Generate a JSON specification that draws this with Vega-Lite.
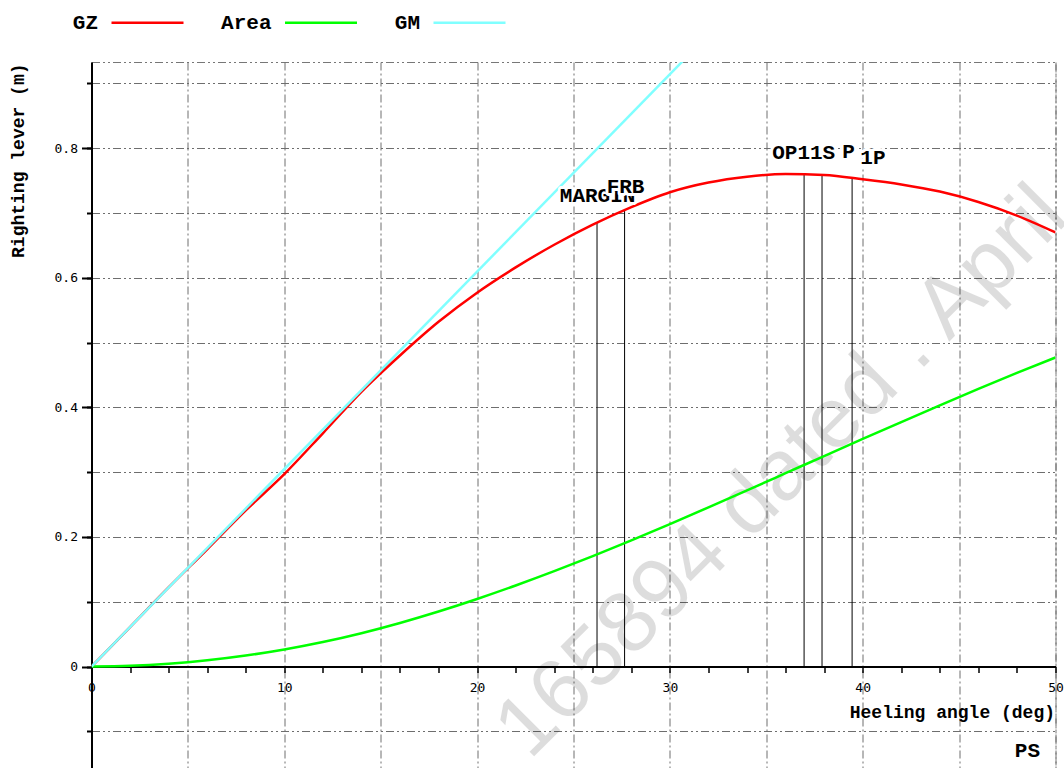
{
  "$schema": "https://vega.github.io/schema/vega-lite/v6.json",
  "width": 964,
  "height": 706,
  "autosize": {"type": "none"},
  "padding": {"left": 91.5, "top": 62, "right": 8.5, "bottom": 0},
  "background": "white",
  "config": {
    "view": {"stroke": "#777777", "strokeDash": [8, 3, 2, 3, 2, 3], "strokeWidth": 1},
    "axis": {
      "labelFont": "DejaVu Sans Mono",
      "labelFontSize": 13,
      "labelColor": "#000000",
      "titleFont": "Liberation Mono",
      "titleFontWeight": "bold",
      "titleFontSize": 18,
      "titleColor": "#000000",
      "domainColor": "#000000",
      "tickColor": "#000000",
      "gridColor": "#6e6e6e",
      "labelFlush": false,
      "labelOverlap": false
    }
  },
  "datasets": {
    "curves": [
      {"series": "GZ", "angle": 0, "value": 0},
      {"series": "GZ", "angle": 2, "value": 0.061},
      {"series": "GZ", "angle": 4, "value": 0.122},
      {"series": "GZ", "angle": 6, "value": 0.181},
      {"series": "GZ", "angle": 8, "value": 0.241},
      {"series": "GZ", "angle": 10, "value": 0.297},
      {"series": "GZ", "angle": 12, "value": 0.36},
      {"series": "GZ", "angle": 14, "value": 0.424},
      {"series": "GZ", "angle": 16, "value": 0.48},
      {"series": "GZ", "angle": 18, "value": 0.532},
      {"series": "GZ", "angle": 20, "value": 0.577},
      {"series": "GZ", "angle": 22, "value": 0.616},
      {"series": "GZ", "angle": 24, "value": 0.651},
      {"series": "GZ", "angle": 26, "value": 0.682},
      {"series": "GZ", "angle": 28, "value": 0.709},
      {"series": "GZ", "angle": 30, "value": 0.732},
      {"series": "GZ", "angle": 32, "value": 0.747},
      {"series": "GZ", "angle": 34, "value": 0.756},
      {"series": "GZ", "angle": 36, "value": 0.76},
      {"series": "GZ", "angle": 38, "value": 0.7585},
      {"series": "GZ", "angle": 40, "value": 0.752},
      {"series": "GZ", "angle": 42, "value": 0.744},
      {"series": "GZ", "angle": 44, "value": 0.733},
      {"series": "GZ", "angle": 46, "value": 0.717},
      {"series": "GZ", "angle": 48, "value": 0.696},
      {"series": "GZ", "angle": 50, "value": 0.67},
      {"series": "Area", "angle": 0, "value": 0},
      {"series": "Area", "angle": 2, "value": 0.00106},
      {"series": "Area", "angle": 4, "value": 0.00426},
      {"series": "Area", "angle": 6, "value": 0.00955},
      {"series": "Area", "angle": 8, "value": 0.01691},
      {"series": "Area", "angle": 10, "value": 0.0263},
      {"series": "Area", "angle": 12, "value": 0.03777},
      {"series": "Area", "angle": 14, "value": 0.05145},
      {"series": "Area", "angle": 16, "value": 0.06723},
      {"series": "Area", "angle": 18, "value": 0.08489},
      {"series": "Area", "angle": 20, "value": 0.10425},
      {"series": "Area", "angle": 22, "value": 0.12507},
      {"series": "Area", "angle": 24, "value": 0.14718},
      {"series": "Area", "angle": 26, "value": 0.17045},
      {"series": "Area", "angle": 28, "value": 0.19473},
      {"series": "Area", "angle": 30, "value": 0.21988},
      {"series": "Area", "angle": 32, "value": 0.24569},
      {"series": "Area", "angle": 34, "value": 0.27192},
      {"series": "Area", "angle": 36, "value": 0.29838},
      {"series": "Area", "angle": 38, "value": 0.32488},
      {"series": "Area", "angle": 40, "value": 0.35125},
      {"series": "Area", "angle": 42, "value": 0.37736},
      {"series": "Area", "angle": 44, "value": 0.40314},
      {"series": "Area", "angle": 46, "value": 0.42844},
      {"series": "Area", "angle": 48, "value": 0.45311},
      {"series": "Area", "angle": 50, "value": 0.47695},
      {"series": "GM", "angle": 0, "value": 0},
      {"series": "GM", "angle": 57.3, "value": 1.746}
    ],
    "limits": [
      {"name": "MARGIN", "angle": 26.22, "gz": 0.685},
      {"name": "FRB", "angle": 27.65, "gz": 0.705},
      {"name": "OP11S", "angle": 36.96, "gz": 0.7605},
      {"name": "P", "angle": 37.89, "gz": 0.7587},
      {"name": "1P", "angle": 39.45, "gz": 0.7538}
    ],
    "labels": [
      {"text": "MARGIN", "angle": 26.25, "level": 0.7168, "tier": 1},
      {"text": "FRB", "angle": 27.7, "level": 0.7315, "tier": 2},
      {"text": "OP11S", "angle": 36.94, "level": 0.7827, "tier": 1},
      {"text": "P", "angle": 39.26, "level": 0.7843, "tier": 1},
      {"text": "1P", "angle": 40.53, "level": 0.7755, "tier": 2}
    ]
  },
  "layer": [
    {
      "data": {"values": [{"mark": "165894 dated . April", "angle": 35.8, "level": 0.3}]},
      "mark": {
        "type": "text",
        "angle": -45,
        "font": "Liberation Sans",
        "fontSize": 86,
        "fill": "#000000",
        "opacity": 0.13,
        "align": "center",
        "baseline": "middle"
      },
      "encoding": {
        "x": {"field": "angle", "type": "quantitative", "scale": {"domain": [0, 50], "nice": false, "zero": false}, "axis": null},
        "y": {"field": "level", "type": "quantitative", "scale": {"domain": [-0.1566, 0.933], "nice": false, "zero": false}, "axis": null},
        "text": {"field": "mark"}
      }
    },
    {
      "data": {"name": "limits"},
      "mark": {"type": "rule", "color": "#000000", "strokeWidth": 1},
      "encoding": {
        "x": {
          "field": "angle",
          "type": "quantitative",
          "scale": {"domain": [0, 50], "nice": false, "zero": false},
          "axis": {
            "orient": "bottom",
            "offset": -101.5,
            "values": [0, 2, 4, 6, 8, 10, 12, 14, 16, 18, 20, 22, 24, 26, 28, 30, 32, 34, 36, 38, 40, 42, 44, 46, 48, 50],
            "grid": false,
            "domainWidth": 2,
            "tickSize": 6,
            "tickWidth": 1.5,
            "labelPadding": 9,
            "labelExpr": "datum.value % 10 === 0 ? datum.label : ''",
            "title": "Heeling angle (deg)",
            "titleX": 963,
            "titleY": 51,
            "titleAlign": "right",
            "titleBaseline": "alphabetic"
          }
        },
        "y": {
          "field": "gz",
          "type": "quantitative",
          "scale": {"domain": [-0.1566, 0.933], "nice": false, "zero": false},
          "axis": {
            "orient": "left",
            "values": [-0.1, 0, 0.1, 0.2, 0.3, 0.4, 0.5, 0.6, 0.7, 0.8, 0.9],
            "grid": false,
            "domainWidth": 2,
            "tickSize": 5,
            "tickWidth": 2,
            "labels": false,
            "title": null
          }
        },
        "y2": {"datum": 0}
      }
    },
    {
      "data": {"name": "curves"},
      "mark": {"type": "line", "strokeWidth": 2.5, "clip": true, "interpolate": "monotone"},
      "encoding": {
        "x": {
          "field": "angle",
          "type": "quantitative",
          "scale": {"domain": [0, 50], "nice": false, "zero": false},
          "axis": null
        },
        "y": {
          "field": "value",
          "type": "quantitative",
          "scale": {"domain": [-0.1566, 0.933], "nice": false, "zero": false},
          "axis": {
            "orient": "left",
            "values": [0, 0.2, 0.4, 0.6, 0.8],
            "grid": false,
            "domain": false,
            "tickSize": 10,
            "tickWidth": 2,
            "labelPadding": 4,
            "labelExpr": "datum.value == 0 ? '0' : format(datum.value, '.1f')",
            "title": "Righting lever (m)",
            "titleX": -73.5,
            "titleY": 1,
            "titleAngle": -90,
            "titleAlign": "right",
            "titleBaseline": "middle"
          }
        },
        "color": {
          "field": "series",
          "type": "nominal",
          "scale": {"domain": ["GZ", "Area", "GM"], "range": ["#ff0000", "#00ff00", "#80ffff"]},
          "legend": {
            "orient": "none",
            "direction": "horizontal",
            "legendX": 18.5,
            "legendY": -77,
            "title": null,
            "padding": 0,
            "offset": 0,
            "symbolType": "stroke",
            "symbolSize": 5184,
            "symbolStrokeWidth": 2.5,
            "symbolOffset": 0,
            "labelFont": "Liberation Mono",
            "labelFontWeight": "bold",
            "labelFontSize": 21,
            "labelColor": "#000000",
            "labelAlign": "right",
            "labelBaseline": "middle",
            "labelOffset": -87,
            "columnPadding": 31.5
          }
        }
      }
    },
    {
      "data": {"name": "labels"},
      "transform": [{"filter": "datum.tier == 1"}],
      "mark": {"type": "text", "font": "Liberation Mono", "fontWeight": "bold", "fontSize": 21, "align": "center", "baseline": "alphabetic", "fill": "#ffffff", "stroke": "#ffffff", "strokeWidth": 6, "strokeJoin": "round"},
      "encoding": {
        "x": {
          "field": "angle",
          "type": "quantitative",
          "scale": {"domain": [0, 50], "nice": false, "zero": false},
          "axis": {
            "orient": "bottom",
            "values": [5, 10, 15, 20, 25, 30, 35, 40, 45, 50],
            "grid": true,
            "gridDash": [8, 3, 2, 3],
            "gridWidth": 1,
            "domain": false,
            "ticks": false,
            "labels": false,
            "title": null
          }
        },
        "y": {
          "field": "level",
          "type": "quantitative",
          "scale": {"domain": [-0.1566, 0.933], "nice": false, "zero": false},
          "axis": {
            "orient": "left",
            "values": [-0.1, 0, 0.1, 0.2, 0.3, 0.4, 0.5, 0.6, 0.7, 0.8, 0.9],
            "grid": true,
            "gridDash": [8, 3, 2, 3, 2, 3],
            "gridWidth": 1,
            "domain": false,
            "ticks": false,
            "labels": false,
            "title": null
          }
        },
        "text": {"field": "text"}
      }
    },
    {
      "data": {"name": "labels"},
      "transform": [{"filter": "datum.tier == 1"}],
      "mark": {"type": "text", "font": "Liberation Mono", "fontWeight": "bold", "fontSize": 21, "align": "center", "baseline": "alphabetic", "fill": "#000000"},
      "encoding": {
        "x": {"field": "angle", "type": "quantitative", "scale": {"domain": [0, 50], "nice": false, "zero": false}, "axis": null},
        "y": {"field": "level", "type": "quantitative", "scale": {"domain": [-0.1566, 0.933], "nice": false, "zero": false}, "axis": null},
        "text": {"field": "text"}
      }
    },
    {
      "data": {"name": "labels"},
      "transform": [{"filter": "datum.tier == 2"}],
      "mark": {"type": "text", "font": "Liberation Mono", "fontWeight": "bold", "fontSize": 21, "align": "center", "baseline": "alphabetic", "fill": "#ffffff", "stroke": "#ffffff", "strokeWidth": 6, "strokeJoin": "round"},
      "encoding": {
        "x": {"field": "angle", "type": "quantitative", "scale": {"domain": [0, 50], "nice": false, "zero": false}, "axis": null},
        "y": {"field": "level", "type": "quantitative", "scale": {"domain": [-0.1566, 0.933], "nice": false, "zero": false}, "axis": null},
        "text": {"field": "text"}
      }
    },
    {
      "data": {"name": "labels"},
      "transform": [{"filter": "datum.tier == 2"}],
      "mark": {"type": "text", "font": "Liberation Mono", "fontWeight": "bold", "fontSize": 21, "align": "center", "baseline": "alphabetic", "fill": "#000000"},
      "encoding": {
        "x": {"field": "angle", "type": "quantitative", "scale": {"domain": [0, 50], "nice": false, "zero": false}, "axis": null},
        "y": {"field": "level", "type": "quantitative", "scale": {"domain": [-0.1566, 0.933], "nice": false, "zero": false}, "axis": null},
        "text": {"field": "text"}
      }
    },
    {
      "data": {"values": [{"mark": "PS", "angle": 49.2, "level": -0.1397}]},
      "mark": {"type": "text", "font": "Liberation Mono", "fontWeight": "bold", "fontSize": 21, "align": "right", "baseline": "alphabetic", "fill": "#000000"},
      "encoding": {
        "x": {"field": "angle", "type": "quantitative", "scale": {"domain": [0, 50], "nice": false, "zero": false}, "axis": null},
        "y": {"field": "level", "type": "quantitative", "scale": {"domain": [-0.1566, 0.933], "nice": false, "zero": false}, "axis": null},
        "text": {"field": "mark"}
      }
    }
  ],
  "resolve": {"axis": {"x": "independent", "y": "independent"}}
}
